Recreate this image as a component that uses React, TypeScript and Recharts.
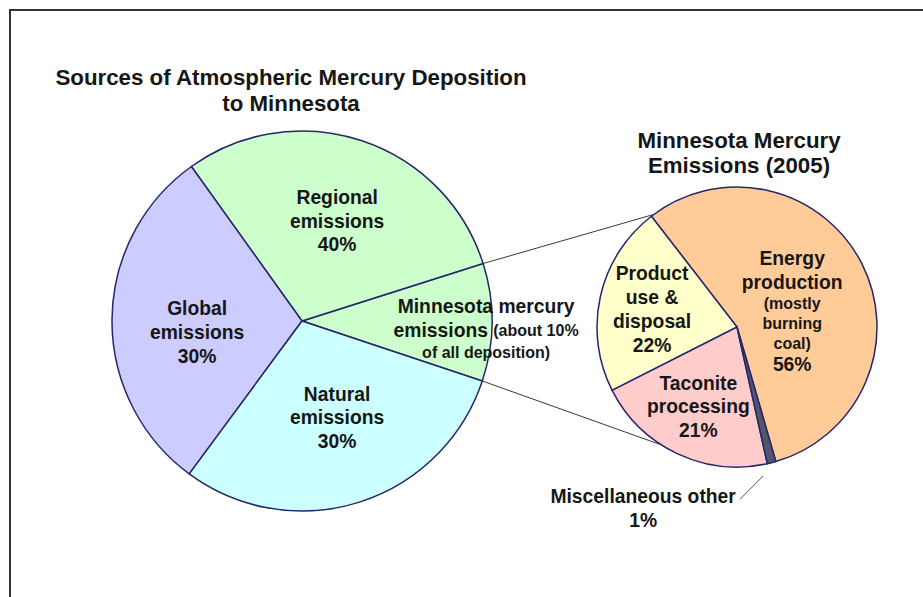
import { PieChart, Pie, Cell } from "recharts";

// deposition to Minnesota (Regional 40% = 30 outside MN + 10 from MN itself)
const depositionSources = ["Minnesota mercury emissions", "Regional emissions", "Global emissions", "Natural emissions"];
const depositionShares = [10, 30, 30, 30];
const depositionColors = ["#ccffcc", "#ccffcc", "#ccccff", "#ccffff"];

// Minnesota emissions 2005
const mnSources = ["Energy production", "Product use & disposal", "Taconite processing", "Miscellaneous other"];
const mnShares = [56, 22, 21, 1];
const mnColors = ["#ffcc99", "#ffffcc", "#ffcccc", "#55556a"];

type Part = { t: string; s: number };
type Line = Part[];

const BIG = 19.3;
const SMALL = 16;

const depositionLabels: Line[][] = [
  [
    [{ t: "Minnesota mercury", s: BIG }],
    [{ t: "emissions ", s: BIG }, { t: "(about 10%", s: SMALL }],
    [{ t: "of all deposition)", s: SMALL }],
  ],
  [[{ t: "Regional", s: BIG }], [{ t: "emissions", s: BIG }], [{ t: "40%", s: BIG }]],
  [[{ t: "Global", s: BIG }], [{ t: "emissions", s: BIG }], [{ t: "30%", s: BIG }]],
  [[{ t: "Natural", s: BIG }], [{ t: "emissions", s: BIG }], [{ t: "30%", s: BIG }]],
];

const mnLabels: Line[][] = [
  [
    [{ t: "Energy", s: BIG }],
    [{ t: "production", s: BIG }],
    [{ t: "(mostly", s: SMALL }],
    [{ t: "burning", s: SMALL }],
    [{ t: "coal)", s: SMALL }],
    [{ t: "56%", s: BIG }],
  ],
  [[{ t: "Product", s: BIG }], [{ t: "use &", s: BIG }], [{ t: "disposal", s: BIG }], [{ t: "22%", s: BIG }]],
  [[{ t: "Taconite", s: BIG }], [{ t: "processing", s: BIG }], [{ t: "21%", s: BIG }]],
  [[{ t: "Miscellaneous other", s: BIG }], [{ t: "1%", s: BIG }]],
];

// layout
const FONT = "'Liberation Sans', Arial, sans-serif";
const TEXT = "#161616";
const EDGE = "#26266a";
const TITLE = 22.3;
const LEFT = { cx: 302, cy: 321, r: 190 };
const RIGHT = { cx: 737, cy: 327, r: 140 };
// label anchors in polar form (degrees, fraction of radius)
const leftSpots = [
  { a: -2.5, f: 0.97 },
  { a: 70.7, f: 0.56 },
  { a: 186, f: 0.555 },
  { a: 290, f: 0.54 },
];
const rightSpots = [
  { a: 16, f: 0.41 },
  { a: 168, f: 0.62 },
  { a: 244, f: 0.63 },
  { a: 242.6, f: 1.457 },
];

const RAD = Math.PI / 180;
const polar = (cx: number, cy: number, r: number, deg: number) => ({
  x: cx + r * Math.cos(deg * RAD),
  y: cy - r * Math.sin(deg * RAD),
});

const lineSize = (l: Line) => Math.max(...l.map((p) => p.s));

const TextBlock = ({ x, y, lines }: { x: number; y: number; lines: Line[] }) => {
  const ys: number[] = [0];
  for (let i = 1; i < lines.length; i++) {
    ys.push(ys[i - 1] + ((lineSize(lines[i - 1]) + lineSize(lines[i])) / 2) * 1.23);
  }
  const shift = ys[ys.length - 1] / 2;
  return (
    <g>
      {lines.map((l, i) => (
        <text
          key={i}
          x={x}
          y={y + ys[i] - shift}
          textAnchor="middle"
          dominantBaseline="central"
          fontFamily={FONT}
          fontWeight="bold"
          fill={TEXT}
        >
          {l.map((p, j) => (
            <tspan key={j} fontSize={p.s}>
              {p.t}
            </tspan>
          ))}
        </text>
      ))}
    </g>
  );
};

const renderLeftLabel = (p: any) => {
  const i = p.index;
  const spot = leftSpots[i];
  const pos = polar(p.cx, p.cy, p.outerRadius * spot.f, spot.a);
  let links = null;
  if (i === 0) {
    // zoom lines from the Minnesota slice to the right-hand pie
    const a = polar(p.cx, p.cy, p.outerRadius, p.endAngle);
    const b = polar(p.cx, p.cy, p.outerRadius, p.startAngle);
    const ta = polar(RIGHT.cx, RIGHT.cy, RIGHT.r, 126.5);
    const tb = polar(RIGHT.cx, RIGHT.cy, RIGHT.r, 237.5);
    links = (
      <g stroke="#3a3a3a" strokeWidth={1}>
        <line x1={a.x} y1={a.y} x2={ta.x} y2={ta.y} />
        <line x1={b.x} y1={b.y} x2={tb.x} y2={tb.y} />
      </g>
    );
  }
  return (
    <g key={`l${i}`}>
      {links}
      <TextBlock x={pos.x} y={pos.y} lines={depositionLabels[i]} />
    </g>
  );
};

const renderRightLabel = (p: any) => {
  const i = p.index;
  const spot = rightSpots[i];
  const pos = polar(p.cx, p.cy, p.outerRadius * spot.f, spot.a);
  let leader = null;
  if (i === 3) {
    const a = polar(p.cx, p.cy, p.outerRadius * 1.08, 280);
    const b = polar(p.cx, p.cy, p.outerRadius * 1.23, 271);
    leader = <line x1={a.x} y1={a.y} x2={b.x} y2={b.y} stroke="#555" strokeWidth={1} />;
  }
  return (
    <g key={`r${i}`}>
      {leader}
      <TextBlock x={pos.x} y={pos.y} lines={mnLabels[i]} />
    </g>
  );
};

const leftData = depositionSources.map((name, i) => ({ name, value: depositionShares[i] }));
const rightData = mnSources.map((name, i) => ({ name, value: mnShares[i] }));

export default function App() {
  return (
    <div style={{ position: "absolute", left: 0, top: 0, background: "#fff" }}>
      <PieChart width={923} height={597} margin={{ top: 0, right: 0, bottom: 0, left: 0 }}>
        <rect x={10} y={10} width={960} height={640} fill="none" stroke="#333" strokeWidth={2} />
        <text x={291} y={77} textAnchor="middle" dominantBaseline="central" fontFamily={FONT} fontWeight="bold" fontSize={TITLE} fill={TEXT}>
          Sources of Atmospheric Mercury Deposition
        </text>
        <text x={291} y={103} textAnchor="middle" dominantBaseline="central" fontFamily={FONT} fontWeight="bold" fontSize={TITLE} fill={TEXT}>
          to Minnesota
        </text>
        <text x={739} y={140} textAnchor="middle" dominantBaseline="central" fontFamily={FONT} fontWeight="bold" fontSize={TITLE} fill={TEXT}>
          Minnesota Mercury
        </text>
        <text x={739} y={165} textAnchor="middle" dominantBaseline="central" fontFamily={FONT} fontWeight="bold" fontSize={TITLE} fill={TEXT}>
          Emissions (2005)
        </text>
        <Pie
          data={leftData}
          dataKey="value"
          nameKey="name"
          cx={LEFT.cx}
          cy={LEFT.cy}
          outerRadius={LEFT.r}
          startAngle={-18.4}
          endAngle={341.6}
          stroke={EDGE}
          strokeWidth={1.5}
          label={renderLeftLabel}
          labelLine={false}
          isAnimationActive={false}
        >
          {leftData.map((d, i) => (
            <Cell key={d.name} fill={depositionColors[i]} />
          ))}
        </Pie>
        <Pie
          data={rightData}
          dataKey="value"
          nameKey="name"
          cx={RIGHT.cx}
          cy={RIGHT.cy}
          outerRadius={RIGHT.r}
          startAngle={-73.9}
          endAngle={286.1}
          stroke={EDGE}
          strokeWidth={1.5}
          label={renderRightLabel}
          labelLine={false}
          isAnimationActive={false}
        >
          {rightData.map((d, i) => (
            <Cell key={d.name} fill={mnColors[i]} />
          ))}
        </Pie>
      </PieChart>
    </div>
  );
}
